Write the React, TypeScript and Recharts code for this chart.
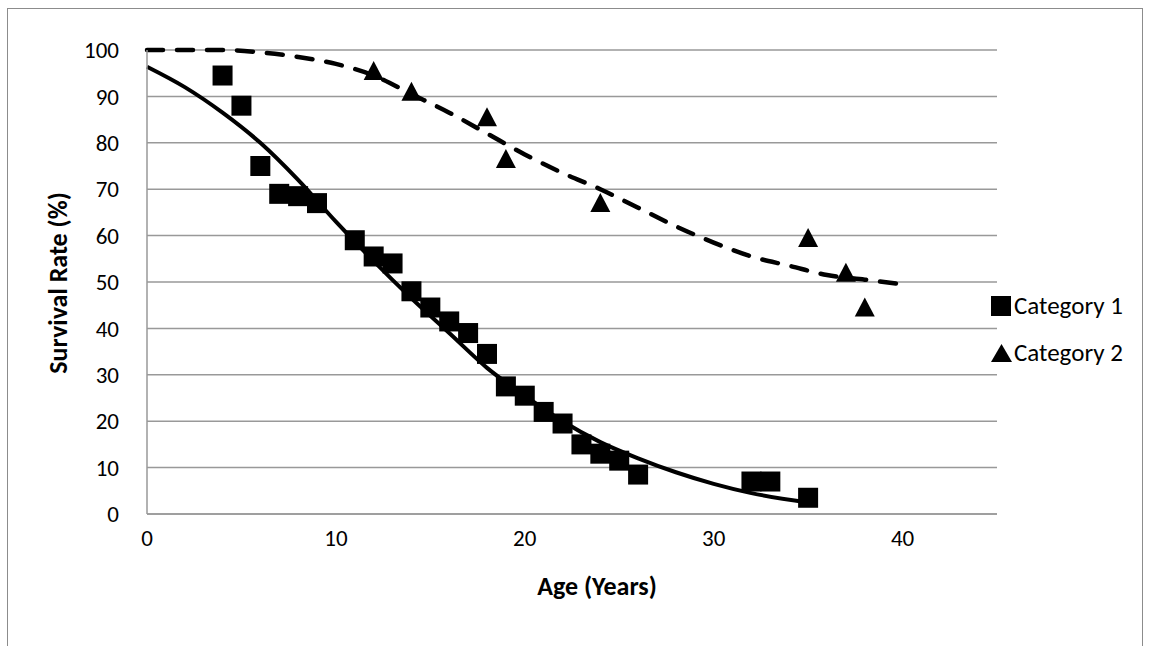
import React from "react";
import { ComposedChart, Scatter, Line, XAxis, YAxis, CartesianGrid } from "recharts";

const cat1X = [4, 5, 6, 7, 8, 9, 11, 12, 13, 14, 15, 16, 17, 18, 19, 20, 21, 22, 23, 24, 25, 26, 32, 33, 35];
const cat1Y = [94.5, 88, 75, 69, 68.5, 67, 59, 55.5, 54, 48, 44.5, 41.5, 39, 34.5, 27.5, 25.5, 22, 19.5, 15, 13, 11.5, 8.5, 7, 7, 3.5];
const cat2X = [12, 14, 18, 19, 24, 35, 37, 38];
const cat2Y = [95.5, 91, 85.5, 76.5, 67, 59.5, 52, 44.5];

const trend1X = [0, 2, 4, 6, 8, 10, 12, 14, 16, 18, 20, 22, 24, 26, 28, 30, 32, 35];
const trend1Y = [96.4, 92, 86.5, 80, 72, 63, 54.5, 46.5, 39, 31.5, 25.5, 20, 15.5, 12, 9, 6.5, 4.5, 2.5];
const trend2X = [0, 4, 6, 8, 10, 12, 14, 16, 18, 20, 22, 24, 26, 28, 30, 32, 34, 36, 38, 40];
const trend2Y = [100, 100, 99.5, 98.5, 97, 94.5, 90.5, 86.5, 82, 77.5, 73.5, 70, 66, 62, 58.5, 55.5, 53.5, 51.5, 50.5, 49.5];

const xTicks = [0, 10, 20, 30, 40];
const yTicks = [0, 10, 20, 30, 40, 50, 60, 70, 80, 90, 100];

const zip = (xs: number[], ys: number[]) => xs.map((x, i) => ({ x, y: ys[i] }));

const Square = (p: any) => <rect x={p.cx - 10} y={p.cy - 10} width={20} height={20} fill="#000" />;
const Tri = (p: any) => (
  <polygon points={`${p.cx},${p.cy - 10} ${p.cx + 10},${p.cy + 9} ${p.cx - 10},${p.cy + 9}`} fill="#000" />
);

const font = "Carlito, Lato, sans-serif";

export default function App() {
  return (
    <div style={{ position: "absolute", left: 0, top: 0, width: 1151, height: 646, background: "#fff", fontFamily: font, overflow: "hidden" }}>
      <div style={{ position: "absolute", left: 7, top: 8, width: 1136, height: 660, border: "1.5px solid #8c8c8c", boxSizing: "border-box" }} />
      <ComposedChart width={1151} height={646} margin={{ top: 50, right: 154, bottom: 72, left: 77 }} style={{ position: "absolute", left: 0, top: 0 }}>
        <CartesianGrid vertical={false} stroke="#999" strokeWidth={1.5} />
        <XAxis
          type="number"
          dataKey="x"
          domain={[0, 45]}
          ticks={xTicks}
          height={60}
          tickLine={false}
          axisLine={{ stroke: "#999", strokeWidth: 1.5 }}
          tick={{ fill: "#000", fontSize: 23, fontFamily: font }}
          tickMargin={10}
        />
        <YAxis
          type="number"
          dataKey="y"
          domain={[0, 100]}
          ticks={yTicks}
          width={70}
          tickLine={false}
          axisLine={{ stroke: "#999", strokeWidth: 1.5 }}
          tick={{ fill: "#000", fontSize: 23, fontFamily: font }}
          tickMargin={22}
        />
        <Line data={zip(trend1X, trend1Y)} dataKey="y" type="monotone" stroke="#000" strokeWidth={4} dot={false} isAnimationActive={false} />
        <Line data={zip(trend2X, trend2Y)} dataKey="y" type="monotone" stroke="#000" strokeWidth={4.5} strokeDasharray="16 14" strokeLinecap="round" dot={false} isAnimationActive={false} />
        <Scatter data={zip(cat1X, cat1Y)} shape={Square} isAnimationActive={false} />
        <Scatter data={zip(cat2X, cat2Y)} shape={Tri} isAnimationActive={false} />
      </ComposedChart>
      <div style={{ position: "absolute", left: 597, top: 586, transform: "translate(-50%, -50%)", fontSize: 26, fontWeight: "bold", whiteSpace: "nowrap" }}>
        Age (Years)
      </div>
      <div style={{ position: "absolute", left: 58, top: 283, transform: "translate(-50%, -50%) rotate(-90deg)", fontSize: 26, fontWeight: "bold", whiteSpace: "nowrap" }}>
        Survival Rate (%)
      </div>
      <div style={{ position: "absolute", left: 991, top: 290, fontSize: 25, lineHeight: "32px" }}>
        <div style={{ display: "flex", alignItems: "center" }}>
          <span style={{ display: "inline-block", width: 20, height: 20, background: "#000", marginRight: 3 }} />Category 1
        </div>
        <div style={{ display: "flex", alignItems: "center", marginTop: 15 }}>
          <svg width={21} height={20} style={{ marginRight: 2 }}><polygon points="10.5,1 21,19 0,19" fill="#000" /></svg>Category 2
        </div>
      </div>
    </div>
  );
}
